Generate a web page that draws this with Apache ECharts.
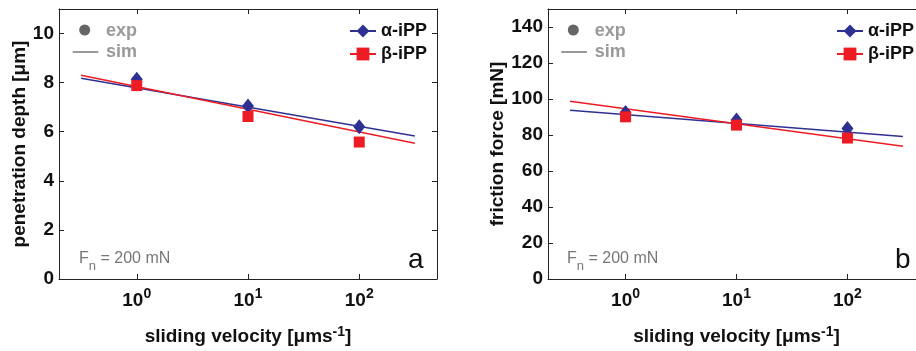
<!DOCTYPE html>
<html>
<head>
<meta charset="utf-8">
<script src="https://cdn.jsdelivr.net/npm/echarts@6/dist/echarts.min.js"></script>
<style>
html,body{margin:0;padding:0;background:#fff;}
#main{width:916px;height:351px;}
</style>
</head>
<body>
<div id="main"></div>
<script>
// ---- data ----
const velocities = [1, 10, 100];            // experimental sliding velocities [µm/s]
const simVelocities = [0.316, 316];          // simulation line end points [µm/s]
const depthAlphaExp = [8.14, 7.05, 6.2];
const depthBetaExp = [7.88, 6.62, 5.58];
const depthAlphaSim = [8.18, 5.83];
const depthBetaSim = [8.30, 5.53];
const forceAlphaExp = [92.5, 88.3, 83.6];
const forceBetaExp = [90.1, 85.5, 78.3];
const forceAlphaSim = [93.8, 79.2];
const forceBetaSim = [98.7, 73.8];
const depthTicks = [0, 2, 4, 6, 8, 10];
const forceTicks = [0, 20, 40, 60, 80, 100, 120, 140];

const BLUE = '#2E3192';
const RED = '#ED1C24';
const AX = '#222';
const FONT = '"Liberation Sans", Arial, Helvetica, sans-serif';

const pairs = (xs, ys) => xs.map((x, i) => [x, ys[i]]);

const supRich = {
  b: {fontSize: 19, fontWeight: 'bold', color: '#111', fontFamily: FONT, verticalAlign: 'bottom'},
  s: {fontSize: 14, fontWeight: 'bold', color: '#111', fontFamily: FONT, verticalAlign: 'bottom', padding: [0, 0, 9, 0]}
};

function xAxes(gridIndex) {
  const base = {
    type: 'log', logBase: 10, min: 0.2, max: 500, gridIndex: gridIndex,
    splitLine: {show: false}, minorTick: {show: false},
    axisLine: {show: true, onZero: false, lineStyle: {color: AX, width: 1}},
    axisTick: {show: true, inside: true, length: 5, lineStyle: {color: AX}}
  };
  return [
    Object.assign({}, base, {
      position: 'bottom',
      name: 'sliding velocity [μms{s|-1}]',
      nameLocation: 'middle', nameGap: 46,
      nameTextStyle: {fontSize: 19, fontWeight: 'bold', color: '#111', fontFamily: FONT,
        rich: {s: {fontSize: 14, fontWeight: 'bold', color: '#111', fontFamily: FONT, verticalAlign: 'bottom', padding: [0, 0, 9, 0]}}},
      axisLabel: {
        show: true, margin: 8, showMinLabel: false, showMaxLabel: false,
        formatter: v => '{b|10}{s|' + Math.round(Math.log10(v)) + '}',
        rich: supRich
      }
    }),
    Object.assign({}, base, {position: 'top', axisLabel: {show: false}})
  ];
}

function yAxes(gridIndex, ticks, max, name, gap) {
  const base = {
    type: 'value', min: ticks[0], max: max, interval: ticks[1] - ticks[0], gridIndex: gridIndex,
    splitLine: {show: false},
    axisLine: {show: true, onZero: false, lineStyle: {color: AX, width: 1}},
    axisTick: {show: true, inside: true, length: 5, lineStyle: {color: AX}}
  };
  return [
    Object.assign({}, base, {
      position: 'left',
      name: name, nameLocation: 'middle', nameGap: gap,
      nameTextStyle: {fontSize: 19, fontWeight: 'bold', color: '#111', fontFamily: FONT},
      axisLabel: {
        show: true, margin: 5, fontSize: 19, fontWeight: 'bold', color: '#111', fontFamily: FONT,
        formatter: v => (ticks.indexOf(v) >= 0 ? String(v) : '')
      }
    }),
    Object.assign({}, base, {position: 'right', axisLabel: {show: false}})
  ];
}

function panelSeries(xi, yi, aExp, bExp, aSim, bSim) {
  return [
    {name: 'α-iPP', type: 'line', xAxisIndex: xi, yAxisIndex: yi, data: pairs(simVelocities, aSim),
      symbol: 'diamond', symbolSize: [12, 15], showSymbol: false, color: BLUE,
      lineStyle: {color: BLUE, width: 1.5}, silent: true, z: 2},
    {name: 'β-iPP', type: 'line', xAxisIndex: xi, yAxisIndex: yi, data: pairs(simVelocities, bSim),
      symbol: 'rect', symbolSize: 11, showSymbol: false, color: RED,
      lineStyle: {color: RED, width: 1.5}, silent: true, z: 2},
    {name: 'α-iPP exp', type: 'scatter', xAxisIndex: xi, yAxisIndex: yi, data: pairs(velocities, aExp),
      symbol: 'diamond', symbolSize: [12, 15], itemStyle: {color: BLUE, opacity: 1}, z: 3},
    {name: 'β-iPP exp', type: 'scatter', xAxisIndex: xi, yAxisIndex: yi, data: pairs(velocities, bExp),
      symbol: 'rect', symbolSize: 11, itemStyle: {color: RED, opacity: 1}, z: 4}
  ];
}

function legend(left) {
  return {
    data: ['α-iPP', 'β-iPP'], orient: 'vertical', left: left, top: 22, padding: 0,
    itemWidth: 26, itemHeight: 16, itemGap: 5, selectedMode: false,
    textStyle: {fontSize: 18, fontWeight: 'bold', color: '#111', fontFamily: FONT}
  };
}

function keyGraphics(cx, textX, lineX0, lineX1, fnX, letter, letterX) {
  return [
    {type: 'circle', shape: {cx: cx, cy: 30, r: 5.5}, style: {fill: '#666'}},
    {type: 'text', x: textX, y: 31, style: {text: 'exp', fill: '#9a9a9a', font: 'bold 18px ' + FONT, verticalAlign: 'middle'}},
    {type: 'line', shape: {x1: lineX0, y1: 52, x2: lineX1, y2: 52}, style: {stroke: '#777', lineWidth: 1.5}},
    {type: 'text', x: textX, y: 52, style: {text: 'sim', fill: '#9a9a9a', font: 'bold 18px ' + FONT, verticalAlign: 'middle'}},
    {type: 'text', x: fnX, y: 259, style: {
      text: 'F{n|n} = 200 mN', fill: '#777', font: '16px ' + FONT, verticalAlign: 'middle',
      rich: {n: {fontSize: 13, fill: '#777', fontFamily: FONT, padding: [14, 0, 0, 0]}}
    }},
    {type: 'text', x: letterX, y: 260, style: {text: letter, fill: '#111', font: '28px ' + FONT, verticalAlign: 'middle'}}
  ];
}

const chart = echarts.init(document.getElementById('main'), null, {renderer: 'canvas'});
chart.setOption({
  animation: false,
  backgroundColor: '#fff',
  textStyle: {fontFamily: FONT},
  grid: [
    {left: 59, top: 9, width: 378, height: 270, containLabel: false, outerBoundsMode: 'none'},
    {left: 548, top: 9, width: 377, height: 270, containLabel: false, outerBoundsMode: 'none'}
  ],
  xAxis: xAxes(0).concat(xAxes(1)),
  yAxis: yAxes(0, depthTicks, 11, 'penetration depth [μm]', 30)
    .concat(yAxes(1, forceTicks, 150, 'friction force [mN]', 41)),
  legend: [legend(349), legend(836)],
  series: panelSeries(0, 0, depthAlphaExp, depthBetaExp, depthAlphaSim, depthBetaSim)
    .concat(panelSeries(2, 2, forceAlphaExp, forceBetaExp, forceAlphaSim, forceBetaSim)),
  graphic: keyGraphics(84.7, 106, 72.7, 98.3, 79, 'a', 408)
    .concat(keyGraphics(573.3, 594.7, 561.3, 587, 567, 'b', 895))
});
</script>
</body>
</html>
